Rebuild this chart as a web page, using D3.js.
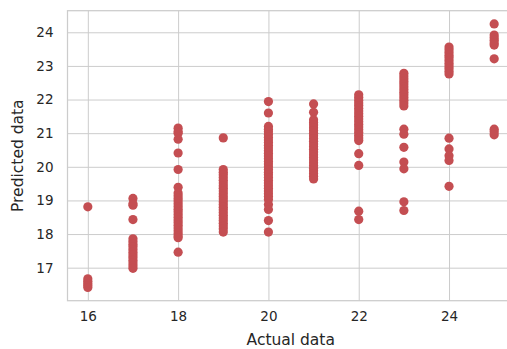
<!DOCTYPE html>
<html>
<head>
<meta charset="utf-8">
<script src="https://cdn.jsdelivr.net/npm/d3@7"></script>
<style>
  html, body { margin: 0; padding: 0; background: #fff; overflow: hidden; }
  text { font-family: "DejaVu Sans", sans-serif; fill: #262626; }
</style>
</head>
<body>
<script>
let actualValues = [16, 17, 18, 19, 20, 21, 22, 23, 24, 25]

let pred16 = [18.81, 16.67, 16.60, 16.53, 16.47, 16.41]
let pred17 = [19.06, 18.90, 18.86, 18.43, 17.86, 17.78, 17.70, 17.62, 17.54, 17.46, 17.38, 17.30, 17.22, 17.14, 17.06, 16.98]
let pred18 = [21.15, 21.05, 21.00, 20.82, 20.41, 19.92, 19.39, 19.22, 19.14, 19.06, 18.98, 18.90, 18.82, 18.74, 18.66, 18.58,
    18.50, 18.42, 18.34, 18.26, 18.18, 18.10, 18.02, 17.94, 17.89, 17.46]
let pred19 = [20.86, 19.92, 19.84, 19.76, 19.68, 19.60, 19.52, 19.44, 19.36, 19.28, 19.20, 19.12, 19.04, 18.96, 18.88,
    18.80, 18.72, 18.64, 18.56, 18.48, 18.40, 18.32, 18.24, 18.16, 18.06]
let pred20 = [21.94, 21.60, 21.20, 21.12, 21.04, 20.96, 20.88, 20.80, 20.72, 20.64, 20.56, 20.48, 20.40, 20.32, 20.24,
    20.16, 20.08, 20.00, 19.92, 19.84, 19.76, 19.68, 19.60, 19.52, 19.44, 19.36, 19.28, 19.20, 19.12, 19.03,
    18.88, 18.73, 18.40, 18.06]
let pred21 = [21.87, 21.62, 21.40, 21.32, 21.24, 21.16, 21.08, 21.00, 20.92, 20.84, 20.76, 20.68, 20.60, 20.52, 20.44,
    20.36, 20.28, 20.20, 20.12, 20.04, 19.96, 19.88, 19.80, 19.72, 19.64]
let pred22 = [22.14, 22.06, 21.98, 21.90, 21.82, 21.74, 21.66, 21.58, 21.50, 21.42, 21.34, 21.26, 21.18, 21.10, 21.02,
    20.94, 20.86, 20.78, 20.39, 20.04, 18.68, 18.43]
let pred23 = [22.78, 22.70, 22.62, 22.54, 22.46, 22.38, 22.30, 22.22, 22.14, 22.06, 21.98, 21.90, 21.81, 21.12, 20.97,
    20.58, 20.14, 19.94, 18.96, 18.70]
let pred24 = [23.56, 23.48, 23.40, 23.32, 23.24, 23.16, 23.08, 23.00, 22.92, 22.84, 22.76, 20.85, 20.53, 20.33, 20.19, 19.42]
let pred25 = [24.25, 23.92, 23.84, 23.76, 23.68, 23.62, 23.21, 21.12, 21.04, 20.95]

let xTicks = [16, 18, 20, 22, 24]
let yTicks = [17, 18, 19, 20, 21, 22, 23, 24]

let predicted = [pred16, pred17, pred18, pred19, pred20, pred21, pred22, pred23, pred24, pred25]
let points = []
actualValues.forEach((a, i) => {
    for (let p of predicted[i]) points.push([a, p])
})

var margin = { top: 10.7, left: 67.5 },
    width = 447,
    height = 290

// matplotlib style 5% padding round the data
function padded(ext) {
    let pad = (ext[1] - ext[0]) * 0.05
    return [ext[0] - pad, ext[1] + pad]
}

let x = d3.scaleLinear().domain(padded(d3.extent(points, d => d[0]))).range([0, width])
let y = d3.scaleLinear().domain(padded(d3.extent(points, d => d[1]))).range([height, 0])

let svg = d3.select('body').append('svg')
    .attr('width', 507)
    .attr('height', 349)
    .append('g')
    .attr('transform', `translate(${margin.left}, ${margin.top})`)

// grid
svg.append('g')
    .attr('transform', `translate(0, ${height})`)
    .call(d3.axisBottom(x).tickValues(xTicks).tickSize(-height).tickFormat(d3.format('d')).tickPadding(11))
    .call(g => g.select('.domain').remove())
    .call(g => g.selectAll('line').attr('stroke', '#cccccc').attr('stroke-width', 1))
    .call(g => g.selectAll('text').attr('font-size', '13.5px').attr('fill', '#262626'))

svg.append('g')
    .call(d3.axisLeft(y).tickValues(yTicks).tickSize(-width).tickFormat(d3.format('d')).tickPadding(14))
    .call(g => g.select('.domain').remove())
    .call(g => g.selectAll('line').attr('stroke', '#cccccc').attr('stroke-width', 1))
    .call(g => g.selectAll('text').attr('font-size', '13.5px').attr('fill', '#262626'))

// frame
svg.append('rect')
    .attr('width', width)
    .attr('height', height)
    .attr('fill', 'none')
    .attr('stroke', '#cccccc')
    .attr('stroke-width', 1.25)

svg.append('g')
    .selectAll('circle')
    .data(points)
    .join('circle')
    .attr('cx', d => x(d[0]))
    .attr('cy', d => y(d[1]))
    .attr('r', 4.6)
    .attr('fill', '#c44e52')

svg.append('text')
    .attr('x', width / 2 - (514.5 - 507) / 2 + 3.5)
    .attr('y', height + 44)
    .attr('text-anchor', 'middle')
    .attr('font-size', '15.5px')
    .text('Actual data')

svg.append('text')
    .attr('transform', `translate(${18 - margin.left}, ${height / 2}) rotate(-90)`)
    .attr('dy', '0.35em')
    .attr('text-anchor', 'middle')
    .attr('font-size', '15.5px')
    .text('Predicted data')
</script>
</body>
</html>
